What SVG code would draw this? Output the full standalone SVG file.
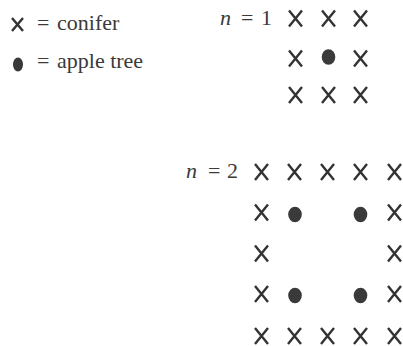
<svg xmlns="http://www.w3.org/2000/svg" xmlns:xlink="http://www.w3.org/1999/xlink" width="403" height="346" viewBox="0 0 403 346">
<style>
.lbl{font-family:"Liberation Serif","Times New Roman",serif;font-size:22px;fill:#3a3a3a}
.it{font-style:italic}
.x{stroke:#333;stroke-width:2.4;stroke-linecap:butt;fill:none}
.dot{fill:#3a3a3a}
</style>
<defs>
<path id="X" class="x" d="M-6.5,-8 L6.5,8 M6.5,-8 L-6.5,8"/>
<ellipse id="D" class="dot" rx="6.8" ry="7.8"/>
</defs>
<rect width="403" height="346" fill="#fff"/>
<g id="legend">
<path class="x" d="M12,18 L23,31 M23,18 L12,31" stroke-width="2.2"/>
<text class="lbl" x="37" y="30">= <tspan x="57">conifer</tspan></text>
<ellipse class="dot" cx="18" cy="64.5" rx="5" ry="7"/>
<text class="lbl" x="37" y="68">= <tspan x="57">apple tree</tspan></text>
</g>
<g id="n1">
<text class="lbl" x="220" y="25"><tspan class="it">n</tspan><tspan x="241">=</tspan><tspan x="261">1</tspan></text>
<use xlink:href="#X" x="295.5" y="18.5"/>
<use xlink:href="#X" x="328.5" y="18.5"/>
<use xlink:href="#X" x="360.5" y="18.5"/>
<use xlink:href="#X" x="295.5" y="58.5"/>
<use xlink:href="#D" x="328.5" y="57"/>
<use xlink:href="#X" x="360.5" y="58.5"/>
<use xlink:href="#X" x="295.5" y="95"/>
<use xlink:href="#X" x="328.5" y="95"/>
<use xlink:href="#X" x="360.5" y="95"/>
</g>
<g id="n2">
<text class="lbl" x="186" y="178"><tspan class="it">n</tspan><tspan x="208">=</tspan><tspan x="227">2</tspan></text>
<use xlink:href="#X" x="261.5" y="172"/>
<use xlink:href="#X" x="294.5" y="172"/>
<use xlink:href="#X" x="327.5" y="172"/>
<use xlink:href="#X" x="360.5" y="172"/>
<use xlink:href="#X" x="394.5" y="172"/>
<use xlink:href="#X" x="261.5" y="212.5"/>
<use xlink:href="#D" x="295" y="214.5"/>
<use xlink:href="#D" x="360.5" y="214.5"/>
<use xlink:href="#X" x="394.5" y="212.5"/>
<use xlink:href="#X" x="261.5" y="253.5"/>
<use xlink:href="#X" x="394.5" y="253.5"/>
<use xlink:href="#X" x="261.5" y="294"/>
<use xlink:href="#D" x="295" y="295.5"/>
<use xlink:href="#D" x="360.5" y="295.5"/>
<use xlink:href="#X" x="394.5" y="294"/>
<use xlink:href="#X" x="261.5" y="336"/>
<use xlink:href="#X" x="294.5" y="336"/>
<use xlink:href="#X" x="327.5" y="336"/>
<use xlink:href="#X" x="360.5" y="336"/>
<use xlink:href="#X" x="394.5" y="336"/>
</g>
</svg>
